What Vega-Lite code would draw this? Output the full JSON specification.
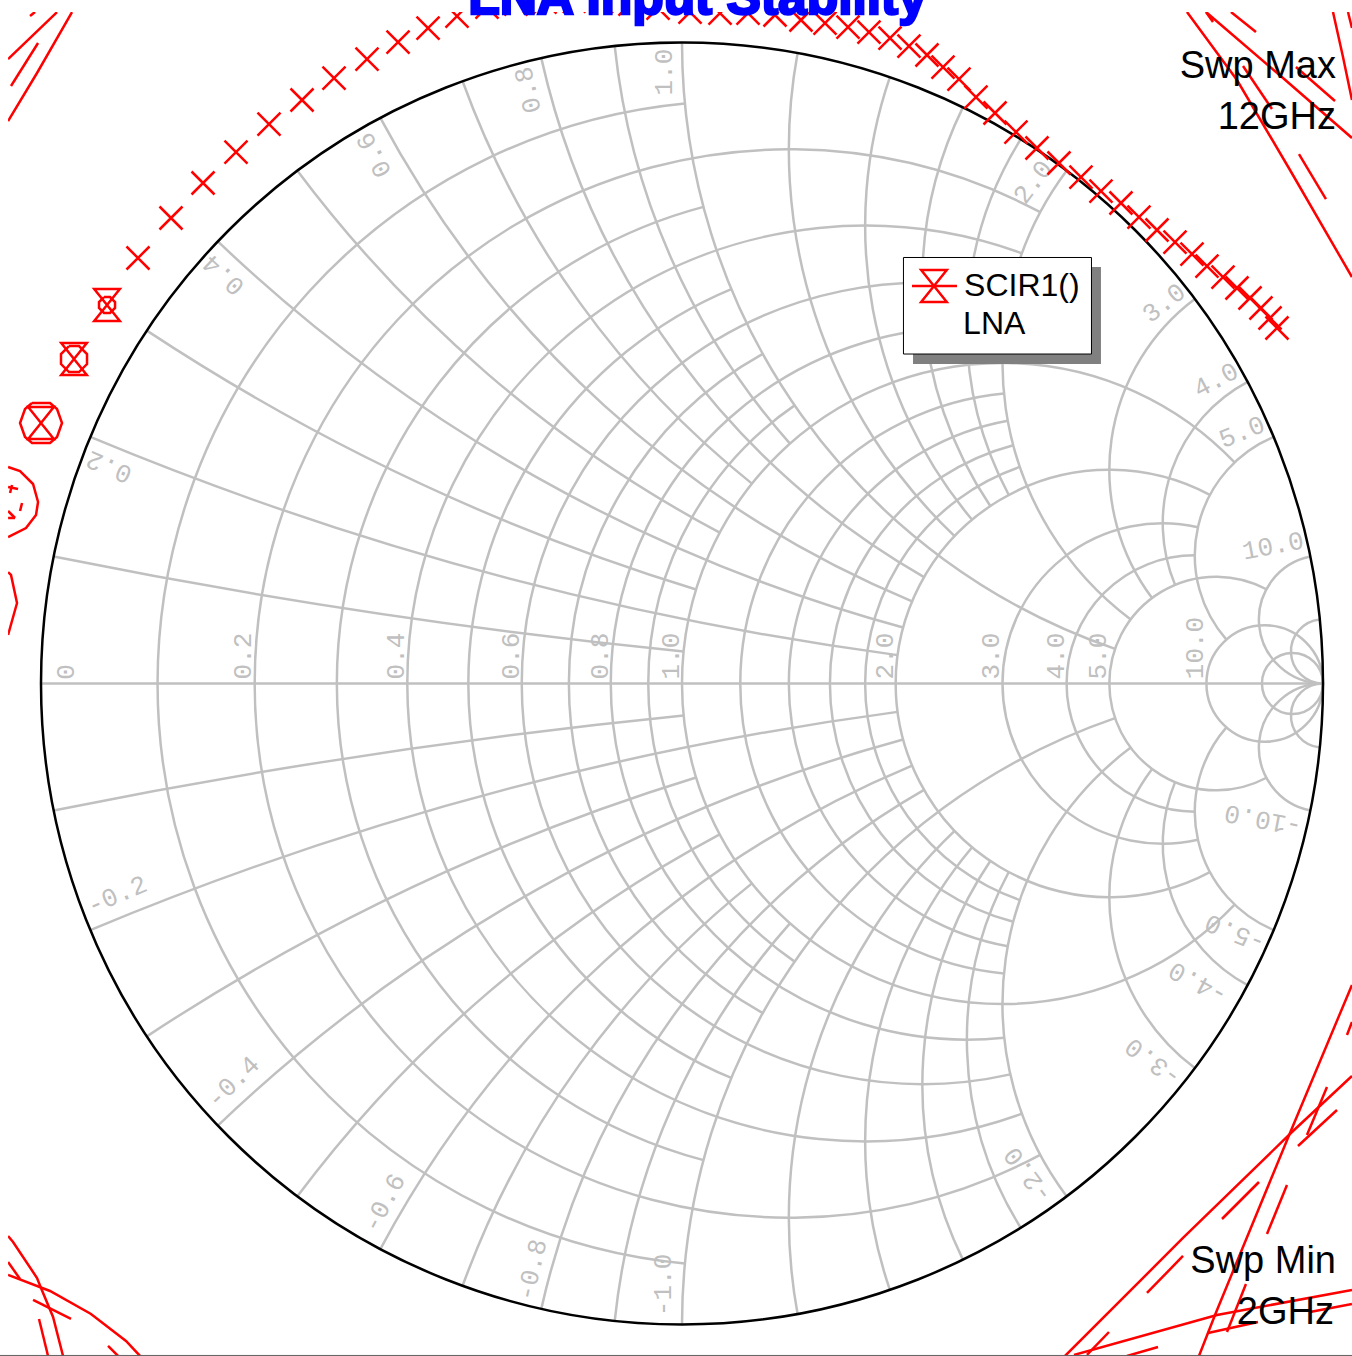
{"$schema":"https://vega.github.io/schema/vega-lite/v6.json","width":1352,"height":1356,"padding":0,"autosize":{"type":"none"},"background":"white","config":{"view":{"stroke":null}},
"datasets":{
"grid":[
{"u":0.090909,"v":0,"rad":0.909091,"start":185.453,"end":354.547},{"u":0.166667,"v":0,"rad":0.833333,"start":151.93,"end":388.07},{"u":0.230769,"v":0,"rad":0.769231,"start":194.86,"end":345.14},{"u":0.285714,"v":0,"rad":0.714286,"start":159.98,"end":380.02},{"u":0.333333,"v":0,"rad":0.666667,"start":202.62,"end":337.38},{"u":0.375,"v":0,"rad":0.625,"start":167.32,"end":372.68},{"u":0.411765,"v":0,"rad":0.588235,"start":209.07,"end":330.93},{"u":0.444444,"v":0,"rad":0.555556,"start":173.97,"end":366.03},{"u":0.473684,"v":0,"rad":0.526316,"start":214.48,"end":325.52},{"u":0.5,"v":0,"rad":0.5,"start":133.6,"end":406.4},{"u":0.545455,"v":0,"rad":0.454545,"start":185.45,"end":354.55},{"u":0.583333,"v":0,"rad":0.416667,"start":190.39,"end":349.61},{"u":0.615385,"v":0,"rad":0.384615,"start":194.86,"end":345.14},{"u":0.642857,"v":0,"rad":0.357143,"start":198.92,"end":341.08},{"u":0.666667,"v":0,"rad":0.333333,"start":151.93,"end":388.07},{"u":0.75,"v":0,"rad":0.25,"start":167.32,"end":372.68},{"u":0.8,"v":0,"rad":0.2,"start":180,"end":360},{"u":0.833333,"v":0,"rad":0.166667,"start":151.93,"end":388.07},{"u":0.909091,"v":0,"rad":0.090909,"start":0,"end":360},{"u":0.952381,"v":0,"rad":0.047619,"start":0,"end":360},
{"u":1,"v":10,"rad":10,"start":185.725,"end":191.421},{"u":1,"v":-10,"rad":10,"start":-11.421,"end":-5.725},
{"u":1,"v":5,"rad":5,"start":187.628,"end":202.62},{"u":1,"v":-5,"rad":5,"start":-22.62,"end":-7.628},
{"u":1,"v":3.33333,"rad":3.33333,"start":197.062,"end":213.398},{"u":1,"v":-3.33333,"rad":3.33333,"start":-33.398,"end":-17.062},
{"u":1,"v":2.5,"rad":2.5,"start":195.19,"end":223.603},{"u":1,"v":-2.5,"rad":2.5,"start":-43.603,"end":-15.19},
{"u":1,"v":2,"rad":2,"start":208.072,"end":233.13},{"u":1,"v":-2,"rad":2,"start":-53.13,"end":-28.072},
{"u":1,"v":1.66667,"rad":1.66667,"start":202.62,"end":241.928},{"u":1,"v":-1.66667,"rad":1.66667,"start":-61.928,"end":-22.62},
{"u":1,"v":1.42857,"rad":1.42857,"start":218.58,"end":249.984},{"u":1,"v":-1.42857,"rad":1.42857,"start":-69.984,"end":-38.58},
{"u":1,"v":1.25,"rad":1.25,"start":209.862,"end":257.32},{"u":1,"v":-1.25,"rad":1.25,"start":-77.32,"end":-29.862},
{"u":1,"v":1.11111,"rad":1.11111,"start":228.455,"end":263.974},{"u":1,"v":-1.11111,"rad":1.11111,"start":-83.974,"end":-48.455},
{"u":1,"v":1,"rad":1,"start":198.925,"end":270},{"u":1,"v":-1,"rad":1,"start":-90,"end":-18.925},
{"u":1,"v":0.83333,"rad":0.83333,"start":223.603,"end":280.389},{"u":1,"v":-0.83333,"rad":0.83333,"start":-100.389,"end":-43.603},
{"u":1,"v":0.71429,"rad":0.71429,"start":230.03,"end":288.925},{"u":1,"v":-0.71429,"rad":0.71429,"start":-108.925,"end":-50.03},
{"u":1,"v":0.625,"rad":0.625,"start":236.145,"end":295.985},{"u":1,"v":-0.625,"rad":0.625,"start":-115.985,"end":-56.145},
{"u":1,"v":0.55556,"rad":0.55556,"start":241.928,"end":301.89},{"u":1,"v":-0.55556,"rad":0.55556,"start":-121.89,"end":-61.928},
{"u":1,"v":0.5,"rad":0.5,"start":216.87,"end":306.87},{"u":1,"v":-0.5,"rad":0.5,"start":-126.87,"end":-36.87},
{"u":1,"v":0.33333,"rad":0.33333,"start":233.13,"end":323.13},{"u":1,"v":-0.33333,"rad":0.33333,"start":-143.13,"end":-53.13},
{"u":1,"v":0.25,"rad":0.25,"start":247.38,"end":331.928},{"u":1,"v":-0.25,"rad":0.25,"start":-151.928,"end":-67.38},
{"u":1,"v":0.2,"rad":0.2,"start":228.888,"end":337.38},{"u":1,"v":-0.2,"rad":0.2,"start":-157.38,"end":-48.888},
{"u":1,"v":0.1,"rad":0.1,"start":180,"end":348.579},{"u":1,"v":-0.1,"rad":0.1,"start":-168.579,"end":0},
{"u":1,"v":0.05,"rad":0.05,"start":180,"end":354.276},{"u":1,"v":-0.05,"rad":0.05,"start":-174.276,"end":0}
],
"red":[
{"id":"tl1","u":-1.0514,"v":0.9742},{"id":"tl1","u":-0.975,"v":1.0475},
{"id":"tl2","u":-1.0171,"v":1.0413},{"id":"tl2","u":-1.0093,"v":1.0475},
{"id":"tl3","u":-1.0468,"v":0.9321},{"id":"tl3","u":-1.0046,"v":0.9992},
{"id":"tl4","u":-1.0514,"v":0.8775},{"id":"tl4","u":-1.0062,"v":0.9524},{"id":"tl4","u":-0.9516,"v":1.0475},
{"id":"o1","u":-0.9017,"v":0.6029},{"id":"o1","u":-0.8923,"v":0.6029},{"id":"o1","u":-0.8845,"v":0.5951},{"id":"o1","u":-0.8845,"v":0.5858},{"id":"o1","u":-0.8923,"v":0.578},{"id":"o1","u":-0.9017,"v":0.578},{"id":"o1","u":-0.9095,"v":0.5858},{"id":"o1","u":-0.9095,"v":0.5951},{"id":"o1","u":-0.9017,"v":0.6029},
{"id":"o2","u":-0.9563,"v":0.5265},{"id":"o2","u":-0.9407,"v":0.5265},{"id":"o2","u":-0.9282,"v":0.514},{"id":"o2","u":-0.9282,"v":0.4984},{"id":"o2","u":-0.9407,"v":0.4859},{"id":"o2","u":-0.9563,"v":0.4859},{"id":"o2","u":-0.9688,"v":0.4984},{"id":"o2","u":-0.9688,"v":0.514},{"id":"o2","u":-0.9563,"v":0.5265},
{"id":"o3","u":-1.014,"v":0.4376},{"id":"o3","u":-0.9859,"v":0.4376},{"id":"o3","u":-0.975,"v":0.4282},{"id":"o3","u":-0.9672,"v":0.4064},{"id":"o3","u":-0.975,"v":0.3845},{"id":"o3","u":-0.9859,"v":0.3752},{"id":"o3","u":-1.014,"v":0.3752},{"id":"o3","u":-1.0249,"v":0.3845},{"id":"o3","u":-1.0327,"v":0.4064},{"id":"o3","u":-1.0249,"v":0.4282},{"id":"o3","u":-1.014,"v":0.4376},
{"id":"o4","u":-1.0514,"v":0.3377},{"id":"o4","u":-1.0327,"v":0.3315},{"id":"o4","u":-1.0124,"v":0.3112},{"id":"o4","u":-1.0046,"v":0.2831},{"id":"o4","u":-1.0078,"v":0.2629},{"id":"o4","u":-1.0234,"v":0.2426},{"id":"o4","u":-1.0514,"v":0.2285},
{"id":"f1","u":-1.0514,"v":0.3065},{"id":"f1","u":-1.0358,"v":0.3034},
{"id":"f2","u":-1.0452,"v":0.3097},{"id":"f2","u":-1.0483,"v":0.2972},
{"id":"f3","u":-1.0296,"v":0.2816},{"id":"f3","u":-1.0327,"v":0.2691},
{"id":"f4","u":-1.0514,"v":0.2691},{"id":"f4","u":-1.0405,"v":0.2582},
{"id":"f5","u":-1.0514,"v":0.2582},{"id":"f5","u":-1.0405,"v":0.2582},
{"id":"lf","u":-1.0514,"v":0.1739},{"id":"lf","u":-1.0468,"v":0.1693},{"id":"lf","u":-1.0374,"v":0.1256},{"id":"lf","u":-1.0514,"v":0.0757},
{"id":"tra","u":0.7878,"v":1.0475},{"id":"tra","u":0.8658,"v":0.9415},{"id":"tra","u":0.9485,"v":0.8011},{"id":"tra","u":1.0452,"v":0.6341},
{"id":"trb","u":0.8284,"v":1.0319},{"id":"trb","u":0.8174,"v":1.0475},{"id":"trb","u":0.9376,"v":0.9446},{"id":"trb","u":1.0452,"v":0.851},
{"id":"trc","u":0.8564,"v":1.0475},{"id":"trc","u":0.8954,"v":1.0163},
{"id":"trd","u":0.8752,"v":0.9633},{"id":"trd","u":0.9204,"v":0.8962},
{"id":"tre","u":0.9578,"v":0.9617},{"id":"tre","u":1.0187,"v":0.9087},
{"id":"trf","u":0.9625,"v":0.826},{"id":"trf","u":1.0046,"v":0.7558},
{"id":"trg","u":1.0156,"v":1.0475},{"id":"trg","u":1.0312,"v":0.9773},{"id":"trg","u":1.0452,"v":0.9103},
{"id":"trh","u":1.039,"v":1.0475},{"id":"trh","u":1.0452,"v":1.0226},
{"id":"bm","u":0.5975,"v":-1.0491},{"id":"bm","u":0.7816,"v":-0.865},{"id":"bm","u":0.9516,"v":-0.6997},{"id":"bm","u":1.0452,"v":-0.6123},
{"id":"bn","u":0.8065,"v":-1.0491},{"id":"bn","u":0.8315,"v":-0.9851},{"id":"bn","u":0.9485,"v":-0.7012},{"id":"bn","u":1.0452,"v":-0.4703},
{"id":"bo","u":0.6115,"v":-1.0475},{"id":"bo","u":0.8346,"v":-0.9851},{"id":"bo","u":1.0452,"v":-0.9461},
{"id":"bp","u":0.8206,"v":-1.0132},{"id":"bp","u":0.8986,"v":-0.9961},
{"id":"bq","u":0.9797,"v":-0.9805},{"id":"bq","u":1.0452,"v":-0.968},
{"id":"br","u":0.7254,"v":-0.9508},{"id":"br","u":0.7816,"v":-0.8931},
{"id":"bs","u":0.8424,"v":-0.8354},{"id":"bs","u":0.9001,"v":-0.7777},
{"id":"bt","u":0.9126,"v":-0.8588},{"id":"bt","u":0.9438,"v":-0.7823},
{"id":"bu","u":0.8502,"v":-1.0117},{"id":"bu","u":0.8798,"v":-0.9368},
{"id":"bv","u":0.975,"v":-0.7043},{"id":"bv","u":1.0062,"v":-0.6295},
{"id":"bw","u":0.961,"v":-0.7215},{"id":"bw","u":1.0218,"v":-0.6653},
{"id":"bx","u":1.0374,"v":-0.5483},{"id":"bx","u":1.0452,"v":-0.5281},
{"id":"by","u":0.6318,"v":-1.0475},{"id":"by","u":0.6661,"v":-1.0117},
{"id":"bz","u":0.6942,"v":-1.0491},{"id":"bz","u":0.7426,"v":-1.0351},
{"id":"la","u":-1.0514,"v":-0.8619},{"id":"la","u":-1.0436,"v":-0.8713},{"id":"la","u":-1.0062,"v":-0.9274},{"id":"la","u":-1,"v":-0.943},{"id":"la","u":-0.9812,"v":-0.9883},{"id":"la","u":-0.9656,"v":-1.0491},
{"id":"lb","u":-1.0514,"v":-0.9025},{"id":"lb","u":-1.0327,"v":-0.929},
{"id":"lc","u":-1.0514,"v":-0.9227},{"id":"lc","u":-0.9859,"v":-0.9477},{"id":"lc","u":-0.922,"v":-0.9836},{"id":"lc","u":-0.8674,"v":-1.0257},{"id":"lc","u":-0.8455,"v":-1.0491},
{"id":"ld","u":-1.0124,"v":-0.9617},{"id":"ld","u":-0.9532,"v":-0.9914},
{"id":"le","u":-1.0031,"v":-0.9914},{"id":"le","u":-0.989,"v":-1.0491},
{"id":"lg","u":-0.8954,"v":-1.0335},{"id":"lg","u":-0.8798,"v":-1.0491}
],
"crosses":[
{"u":-0.8487,"v":0.6638},{"u":-0.7972,"v":0.7262},{"u":-0.7472,"v":0.7808},{"u":-0.6958,"v":0.8291},{"u":-0.6443,"v":0.8728},{"u":-0.5928,"v":0.9103},{"u":-0.5429,"v":0.9446},{"u":-0.4914,"v":0.9742},{"u":-0.443,"v":1.0007},{"u":-0.3962,"v":1.0226},{"u":-0.351,"v":1.0413},{"u":-0.3042,"v":1.0553},{"u":-0.259,"v":1.06},{"u":-0.2137,"v":1.0631},{"u":-0.1685,"v":1.0647},{"u":-0.1248,"v":1.0647},{"u":-0.0811,"v":1.06},{"u":-0.0374,"v":1.0538},{"u":0.0125,"v":1.0475},{"u":0.0593,"v":1.046},{"u":0.103,"v":1.046},{"u":0.1451,"v":1.0429},{"u":0.1856,"v":1.0351},{"u":0.2231,"v":1.0304},{"u":0.259,"v":1.0241},{"u":0.2917,"v":1.0163},{"u":0.3245,"v":1.007},{"u":0.3541,"v":0.9945},{"u":0.3822,"v":0.9805},{"u":0.4072,"v":0.9617},{"u":0.4321,"v":0.943},{"u":0.4586,"v":0.9149},{"u":0.4883,"v":0.89},{"u":0.521,"v":0.8603},{"u":0.5538,"v":0.8354},{"u":0.5881,"v":0.812},{"u":0.6224,"v":0.7901},{"u":0.6536,"v":0.7683},{"u":0.6848,"v":0.7496},{"u":0.7129,"v":0.7277},{"u":0.741,"v":0.7075},{"u":0.7691,"v":0.6887},{"u":0.7956,"v":0.67},{"u":0.819,"v":0.6513},{"u":0.844,"v":0.6341},{"u":0.8658,"v":0.617},{"u":0.8861,"v":0.6014},{"u":0.9032,"v":0.5858},{"u":0.9173,"v":0.5702},{"u":0.9282,"v":0.5546}
],
"hourglass":[{"u":-1,"v":0.4064},{"u":-0.9485,"v":0.5062},{"u":-0.897,"v":0.5905}],
"labels":[
{"t":"0","u":-0.961,"v":0.0179,"a":270},{"t":"0.2","u":-0.6848,"v":0.0429,"a":270},{"t":"0.4","u":-0.4462,"v":0.0429,"a":270},{"t":"0.6","u":-0.2668,"v":0.0429,"a":270},{"t":"0.8","u":-0.1279,"v":0.0429,"a":270},{"t":"1.0","u":-0.0179,"v":0.0429,"a":270},{"t":"2.0","u":0.3167,"v":0.0429,"a":270},{"t":"3.0","u":0.482,"v":0.0429,"a":270},{"t":"4.0","u":0.5834,"v":0.0429,"a":270},{"t":"5.0","u":0.649,"v":0.0429,"a":270},{"t":"10.0","u":0.8003,"v":0.0554,"a":270},
{"t":"0.2","u":-0.8939,"v":0.3377,"a":203},{"t":"0.4","u":-0.7153,"v":0.6373,"a":223},{"t":"0.6","u":-0.4805,"v":0.8245,"a":242},{"t":"0.8","u":-0.2402,"v":0.9259,"a":257},{"t":"1.0","u":-0.0281,"v":0.9539,"a":270},{"t":"2.0","u":0.5476,"v":0.7823,"a":307},{"t":"3.0","u":0.7519,"v":0.5936,"a":322},{"t":"4.0","u":0.833,"v":0.4735,"a":332},{"t":"5.0","u":0.8736,"v":0.3923,"a":338},{"t":"10.0","u":0.922,"v":0.2145,"a":349},
{"t":"-0.2","u":-0.8814,"v":-0.3299,"a":337},{"t":"-0.4","u":-0.7004,"v":-0.6217,"a":316},{"t":"-0.6","u":-0.4649,"v":-0.8104,"a":298},{"t":"-0.8","u":-0.234,"v":-0.9149,"a":283},{"t":"-1.0","u":-0.0296,"v":-0.9383,"a":270},{"t":"-2.0","u":0.5398,"v":-0.7667,"a":233},{"t":"-3.0","u":0.7348,"v":-0.5905,"a":217},{"t":"-4.0","u":0.805,"v":-0.4672,"a":208},{"t":"-5.0","u":0.8627,"v":-0.3892,"a":202},{"t":"-10.0","u":0.9064,"v":-0.2129,"a":191}
]
},
"encoding":{
"x":{"field":"u","type":"quantitative","axis":null,"scale":{"domain":[-1.06396,1.04524],"nice":false,"zero":false}},
"y":{"field":"v","type":"quantitative","axis":null,"scale":{"domain":[-1.04914,1.0663],"nice":false,"zero":false}}
},
"layer":[
{"data":{"name":"grid"},"mark":{"type":"arc","fill":null,"stroke":"#c0c0c0","strokeWidth":2.5},"encoding":{"radius":{"field":"rad","type":"quantitative","scale":{"type":"linear","domain":[0,1],"range":[0,641]}},"radius2":{"field":"rad"},"theta":{"field":"start","type":"quantitative","stack":null,"scale":{"type":"linear","domain":[0,360],"range":[0,6.283185]}},"theta2":{"field":"end"}}},
{"data":{"values":[{"u":-1,"v":0,"g":"axis"},{"u":1,"v":0,"g":"axis"}]},"mark":{"type":"line","stroke":"#c0c0c0","strokeWidth":2.5},"encoding":{"detail":{"field":"g"}}},
{"data":{"values":[{"u":0,"v":0,"rad":1,"start":0,"end":360}]},"mark":{"type":"arc","fill":null,"stroke":"#000000","strokeWidth":2.5},"encoding":{"radius":{"field":"rad","type":"quantitative","scale":{"type":"linear","domain":[0,1],"range":[0,641]}},"radius2":{"field":"rad"},"theta":{"field":"start","type":"quantitative","stack":null,"scale":{"type":"linear","domain":[0,360],"range":[0,6.283185]}},"theta2":{"field":"end"}}},
{"data":{"name":"labels"},"mark":{"type":"text","font":"Liberation Mono","fontSize":26,"align":"center","baseline":"middle","fill":"#c0c0c0"},"encoding":{"text":{"field":"t"},"angle":{"field":"a","type":"quantitative","scale":null}}},
{"data":{"name":"red"},"transform":[{"window":[{"op":"row_number","as":"o"}]}],"mark":{"type":"line","stroke":"#ff0000","strokeWidth":2.5,"interpolate":"linear"},"encoding":{"detail":{"field":"id"},"order":{"field":"o","type":"quantitative"}}},
{"data":{"name":"crosses"},"mark":{"type":"point","shape":"M-1,-1L1,1M-1,1L1,-1","size":529,"filled":false,"stroke":"#ff0000","strokeWidth":2.5,"opacity":1}},
{"data":{"name":"hourglass"},"mark":{"type":"point","shape":"M-0.8,-1L0.8,-1L-0.8,1L0.8,1Z","size":1024,"filled":false,"stroke":"#ff0000","strokeWidth":2.5,"opacity":1}},
{"data":{"values":[{"u":-1.06396,"v":1.0663,"u2":1.04524,"v2":1.0475},{"u":-1.06396,"v":1.0663,"u2":-1.0514,"v2":-1.04914}]},"mark":{"type":"rect","fill":"white","stroke":null},"encoding":{"x2":{"field":"u2"},"y2":{"field":"v2"}}},
{"data":{"values":[{"u":0.3604,"v":0.6497,"u2":0.6536,"v2":0.4984}]},"mark":{"type":"rect","fill":"#808080","stroke":null},"encoding":{"x2":{"field":"u2"},"y2":{"field":"v2"}}},
{"data":{"values":[{"u":0.3455,"v":0.6646,"u2":0.6388,"v2":0.514}]},"mark":{"type":"rect","fill":"white","stroke":"#000000","strokeWidth":1},"encoding":{"x2":{"field":"u2"},"y2":{"field":"v2"}}},
{"data":{"values":[{"u":0.3588,"v":0.6201,"g":"k"},{"u":0.429,"v":0.6201,"g":"k"}]},"mark":{"type":"line","stroke":"#ff0000","strokeWidth":2.5},"encoding":{"detail":{"field":"g"}}},
{"data":{"values":[{"u":0.3931,"v":0.6201}]},"mark":{"type":"point","shape":"M-0.8,-1L0.8,-1L-0.8,1L0.8,1Z","size":1024,"filled":false,"stroke":"#ff0000","strokeWidth":2.5,"opacity":1}},
{"data":{"values":[{"t":"SCIR1()","u":0.44,"v":0.605},{"t":"LNA","u":0.4385,"v":0.5452}]},"mark":{"type":"text","font":"Liberation Sans","fontSize":32,"align":"left","baseline":"alphabetic","fill":"#000000"},"encoding":{"text":{"field":"t"}}},
{"data":{"values":[{"t":"Swp Max","u":1.0203,"v":0.9446},{"t":"12GHz","u":1.0203,"v":0.865},{"t":"Swp Min","u":1.0203,"v":-0.9196},{"t":"2GHz","u":1.0171,"v":-0.9992}]},"mark":{"type":"text","font":"Liberation Sans","fontSize":38,"align":"right","baseline":"alphabetic","fill":"#000000"},"encoding":{"text":{"field":"t"}}},
{"data":{"values":[{"t":"LNA Input Stability","u":0.0242,"v":1.0452}]},"mark":{"type":"text","font":"Liberation Sans","fontWeight":"bold","fontSize":51.5,"align":"center","baseline":"alphabetic","fill":"#0000ff","stroke":"#0000ff","strokeWidth":2.5},"encoding":{"text":{"field":"t"}}},
{"data":{"values":[{"u":-1.06396,"v":-1.0483,"g":"b"},{"u":1.04524,"v":-1.0483,"g":"b"}]},"mark":{"type":"line","stroke":"#606060","strokeWidth":1},"encoding":{"detail":{"field":"g"}}}
]}
